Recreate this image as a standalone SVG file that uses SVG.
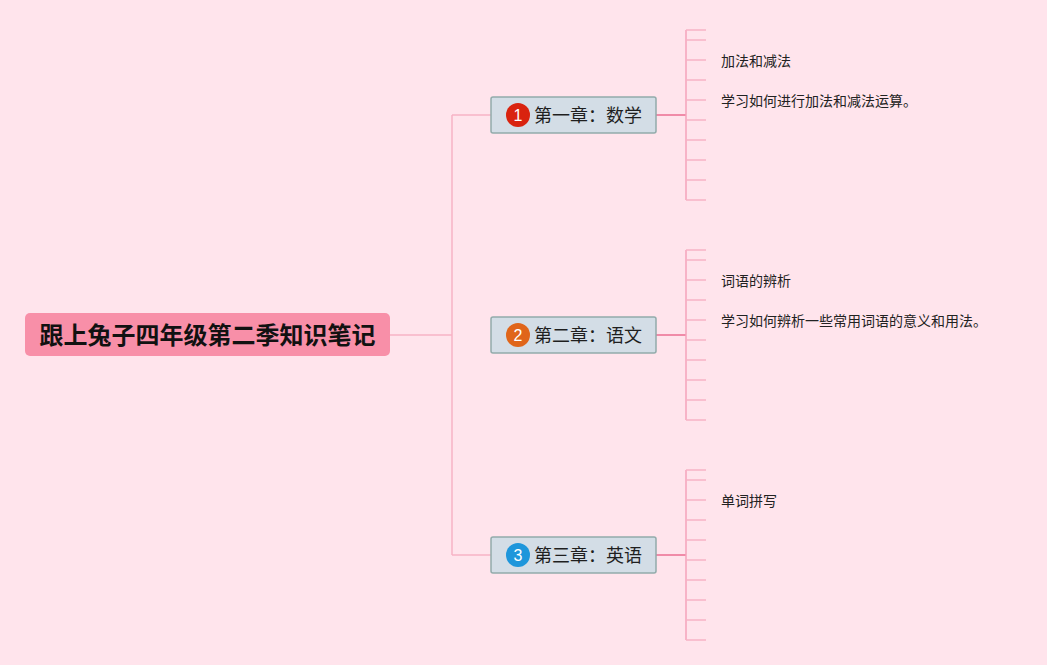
<svg xmlns="http://www.w3.org/2000/svg" width="1047" height="665" viewBox="0 0 1047 665">
<style>
.cjk{font-family:"Noto Sans CJK SC","Liberation Sans",sans-serif}
.chap{fill:#D3DDE6;stroke:#92ABAB;stroke-width:1.5}
.ct{font-size:18px;fill:#1f1f1f}
.bn{font-size:16px;fill:#fff;font-family:"Liberation Sans",sans-serif}
.leaf{font-size:14px;fill:#222}
.lt{stroke:#F7B3C5;stroke-width:1.5;fill:none}
.dk{stroke:#F08BA8;stroke-width:2;fill:none}
.br{stroke:#F5A3BA;stroke-width:1.5;fill:none}
</style>
<rect width="1047" height="665" fill="#FFE4EC"/>
<g id="connectors">
<path class="lt" d="M390 335H452M452 115V555M452 115H491M452 555H491"/>
<path class="dk" d="M656 115H686M656 335H686M656 555H686"/>
<path class="br" d="M686 30V200M686 250V420M686 470V640"/>
<path class="lt" d="M686 30H706M686 40H706M686 60H706M686 80H706M686 100H706M686 120H706M686 140H706M686 160H706M686 180H706M686 200H706"/>
<path class="lt" d="M686 250H706M686 260H706M686 280H706M686 300H706M686 320H706M686 340H706M686 360H706M686 380H706M686 400H706M686 420H706"/>
<path class="lt" d="M686 470H706M686 480H706M686 500H706M686 520H706M686 540H706M686 560H706M686 580H706M686 600H706M686 620H706M686 640H706"/>
</g>
<g id="root">
<rect x="25" y="313" width="365" height="43" rx="5" fill="#F88FA8"/>
<text x="207.5" y="343.5" text-anchor="middle" class="cjk" font-size="24" font-weight="bold" fill="#111">跟上兔子四年级第二季知识笔记</text>
</g>
<g id="chapter1">
<rect class="chap" x="491" y="97" width="165" height="36" rx="2"/>
<circle cx="518" cy="115" r="12" fill="#D9230F"/>
<text x="518" y="120.5" text-anchor="middle" class="bn">1</text>
<text x="534" y="122" class="cjk ct">第一章：数学</text>
</g>
<g id="chapter2">
<rect class="chap" x="491" y="317" width="165" height="36" rx="2"/>
<circle cx="518" cy="335" r="12" fill="#E0651A"/>
<text x="518" y="340.5" text-anchor="middle" class="bn">2</text>
<text x="534" y="342" class="cjk ct">第二章：语文</text>
</g>
<g id="chapter3">
<rect class="chap" x="491" y="537" width="165" height="36" rx="2"/>
<circle cx="518" cy="555" r="12" fill="#1E96DB"/>
<text x="518" y="560.5" text-anchor="middle" class="bn">3</text>
<text x="534" y="562" class="cjk ct">第三章：英语</text>
</g>
<g id="leaf1a"><text x="721" y="66" class="cjk leaf">加法和减法</text></g>
<g id="leaf1b"><text x="721" y="106" class="cjk leaf">学习如何进行加法和减法运算。</text></g>
<g id="leaf2a"><text x="721" y="286" class="cjk leaf">词语的辨析</text></g>
<g id="leaf2b"><text x="721" y="326" class="cjk leaf">学习如何辨析一些常用词语的意义和用法。</text></g>
<g id="leaf3a"><text x="721" y="506" class="cjk leaf">单词拼写</text></g>
</svg>
